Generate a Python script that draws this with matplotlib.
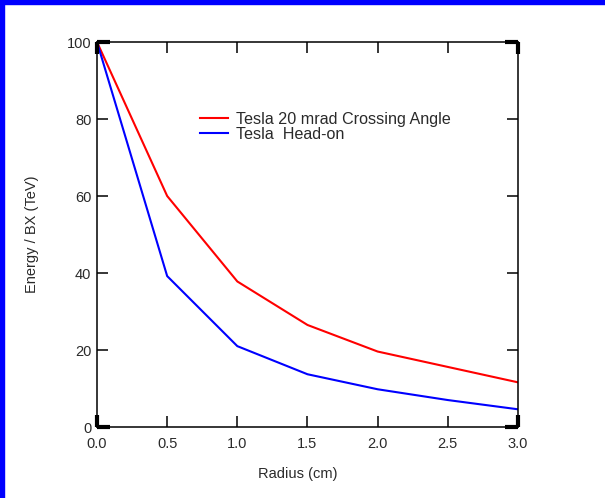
import matplotlib
matplotlib.use("Agg")
import matplotlib.pyplot as plt
from matplotlib.patches import Rectangle

radius = [0.0, 0.5, 1.0, 1.5, 2.0, 2.5, 3.0]
crossing = [100, 60, 37.8, 26.5, 19.6, 15.6, 11.6]
headon = [100, 39.2, 21, 13.7, 9.8, 7.0, 4.6]
labels = ["Tesla 20 mrad Crossing Angle", "Tesla  Head-on"]
xticks = [0.0, 0.5, 1.0, 1.5, 2.0, 2.5, 3.0]
yticks = [0, 20, 40, 60, 80, 100]

plt.rcParams['font.family'] = ['Liberation Sans', 'DejaVu Sans']
W, H = 605, 498
fig = plt.figure(figsize=(W/100, H/100), dpi=100)
ax = fig.add_axes([97/W, 1-427/H, 421/W, 385/H])

ax.plot(radius, crossing, color='#ff0000', lw=1.5, label=labels[0])
ax.plot(radius, headon, color='#0000ff', lw=1.5, label=labels[1])

ax.set_xlim(0, 3.0)
ax.set_ylim(0, 100)
ax.set_xticks(xticks)
ax.set_xticklabels([f"{v:.1f}" for v in xticks])
ax.set_yticks(yticks)
tc = '#2a2a2a'
fs = 10.5
ax.tick_params(direction='in', length=8, width=1.1, top=True, right=True,
               labelsize=fs, labelcolor=tc)
ax.tick_params(axis='x', pad=7)
ax.tick_params(axis='y', pad=4)
for s in ax.spines.values():
    s.set_linewidth(1.1)

# thick corner marks
for (x0, y0, x1, y1) in [(0, 0, 0.03, 0), (0, 0, 0, 0.03), (1, 0, 0.97, 0), (1, 0, 1, 0.03),
                         (0, 1, 0.03, 1), (0, 1, 0, 0.97), (1, 1, 0.97, 1), (1, 1, 1, 0.97)]:
    ax.plot([x0, x1], [y0, y1], color='black', lw=3, transform=ax.transAxes,
            clip_on=False, solid_capstyle='butt')

ax.set_xlabel("Radius (cm)", fontsize=fs, color=tc, labelpad=12, x=0.476)
ax.set_ylabel("Energy / BX (TeV)", fontsize=fs, color=tc, labelpad=20)

ax.legend(loc='upper left', bbox_to_anchor=(0.245, 0.819), frameon=False,
          fontsize=11.6, handlelength=1.75, handletextpad=0.5, labelspacing=0.0,
          borderpad=0, borderaxespad=0, labelcolor=tc)

fig.patches.append(Rectangle((0, 0), 4/W, 1, transform=fig.transFigure,
                             color='#0000ff', zorder=10))
fig.patches.append(Rectangle((0, 1-4/H), 1, 4/H, transform=fig.transFigure,
                             color='#0000ff', zorder=10))

fig.savefig("out.png", dpi=100)
